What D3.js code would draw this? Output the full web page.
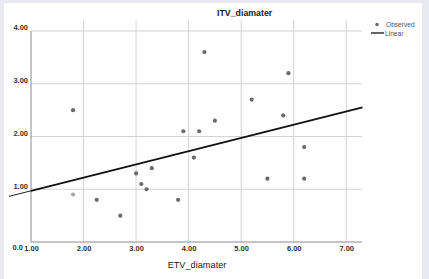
<!DOCTYPE html>
<html>
<head>
<meta charset="utf-8">
<script src="https://cdn.jsdelivr.net/npm/d3@7"></script>
<style>
  body { margin: 0; background: #e9e9f3; }
  text { font-family: "Liberation Sans", Arial, sans-serif; }
</style>
</head>
<body>
<div id="my_dataviz"></div>
<script>
// observed points
const etv = [1.8, 4.3, 3.9, 4.2, 4.5, 5.9, 5.2, 5.8, 1.8, 2.25, 2.7, 3.0, 3.1, 3.2, 3.3, 3.8, 4.1, 6.2, 5.5, 6.2];
const itv = [2.5, 3.6, 2.1, 2.1, 2.3, 3.2, 2.7, 2.4, 0.9, 0.8, 0.5, 1.3, 1.1, 1.0, 1.4, 0.8, 1.6, 1.8, 1.2, 1.2];

// linear fit line
const fitX = [0.58, 1.0, 7.31];
const fitY = [0.865, 0.97, 2.55];

const xTicks = [1, 2, 3, 4, 5, 6, 7];
const yTicks = [0, 1, 2, 3, 4];
const yTickLabels = ["0.0", "1.00", "2.00", "3.00", "4.00"];

const W = 429, H = 279;

const svg = d3.select("#my_dataviz")
  .append("svg")
  .attr("width", W)
  .attr("height", H);

// white panel
svg.append("rect")
  .attr("x", 4).attr("y", 3)
  .attr("width", 418).attr("height", H - 3)
  .attr("fill", "#ffffff");

const x = d3.scaleLinear().domain([1, 7.3]).range([31, 362]);
const y = d3.scaleLinear().domain([0, 4.2]).range([242, 20.45]);

// grid lines
svg.append("g")
  .selectAll("line")
  .data(xTicks.slice(1))
  .join("line")
  .attr("x1", d => x(d)).attr("x2", d => x(d))
  .attr("y1", y(4.2)).attr("y2", y(0))
  .attr("stroke", "#d2d2d2").attr("stroke-width", 1);

svg.append("g")
  .selectAll("line")
  .data(yTicks.slice(1))
  .join("line")
  .attr("x1", x(1)).attr("x2", x(7.3))
  .attr("y1", d => y(d)).attr("y2", d => y(d))
  .attr("stroke", "#d2d2d2").attr("stroke-width", 1);

// axis lines
svg.append("line")
  .attr("x1", x(1)).attr("x2", x(1))
  .attr("y1", y(4)).attr("y2", y(0))
  .attr("stroke", "#8a8a8a");
svg.append("line")
  .attr("x1", x(1)).attr("x2", x(7.3))
  .attr("y1", y(0)).attr("y2", y(0))
  .attr("stroke", "#8a8a8a");

// X axis labels
const xAxis = svg.append("g")
  .attr("transform", `translate(0, ${y(0)})`)
  .call(d3.axisBottom(x).tickValues(xTicks).tickFormat(d3.format(".2f")).tickSize(0).tickPadding(4));
xAxis.select(".domain").remove();
xAxis.selectAll("text")
  .attr("style", "font-size: 7.5px; font-weight: bold; fill: #333");

// Y axis labels
const yAxis = svg.append("g")
  .attr("transform", `translate(${x(1)}, 0)`)
  .call(d3.axisLeft(y).tickValues(yTicks).tickFormat((d, i) => yTickLabels[i]).tickSize(0).tickPadding(3));
yAxis.select(".domain").remove();
yAxis.selectAll("text")
  .attr("dy", "-0.15em")
  .attr("style", "font-size: 7.5px; font-weight: bold; fill: #333");
yAxis.selectAll(".tick").filter(d => d === 0).select("text")
  .attr("x", -8).attr("dy", "0.95em");

// fit line
svg.append("line")
  .attr("x1", x(fitX[0])).attr("y1", y(fitY[0]))
  .attr("x2", x(fitX[1])).attr("y2", y(fitY[1]))
  .attr("stroke", "#222").attr("stroke-width", 1);
svg.append("line")
  .attr("x1", x(fitX[1])).attr("y1", y(fitY[1]))
  .attr("x2", x(fitX[2])).attr("y2", y(fitY[2]))
  .attr("stroke", "#111").attr("stroke-width", 1.8);

// points
svg.append("g")
  .selectAll("circle")
  .data(etv.map((d, i) => [d, itv[i]]))
  .join("circle")
  .attr("cx", d => x(d[0]))
  .attr("cy", d => y(d[1]))
  .attr("r", 2.1)
  .attr("fill", (d, i) => i === 8 ? "#a8a8a8" : "#6a6a6a");

// titles
svg.append("text")
  .attr("x", 217).attr("y", 16)
  .text("ITV_diamater")
  .attr("style", "font-size: 8.8px; font-weight: bold; fill: #222");

svg.append("text")
  .attr("x", 197).attr("y", 268)
  .attr("text-anchor", "middle")
  .text("ETV_diamater")
  .attr("style", "font-size: 9.2px; fill: #222");

// legend
svg.append("circle")
  .attr("cx", 377).attr("cy", 24.5).attr("r", 1.8)
  .attr("fill", "#6a6a6a");
svg.append("text")
  .attr("x", 386).attr("y", 27)
  .text("Observed")
  .attr("style", "font-size: 6.6px; fill: #555");
svg.append("line")
  .attr("x1", 371).attr("x2", 384)
  .attr("y1", 33).attr("y2", 33)
  .attr("stroke", "#111").attr("stroke-width", 1.3);
svg.append("text")
  .attr("x", 385).attr("y", 35.5)
  .text("Linear")
  .attr("style", "font-size: 6.6px; fill: #555");
</script>
</body>
</html>
